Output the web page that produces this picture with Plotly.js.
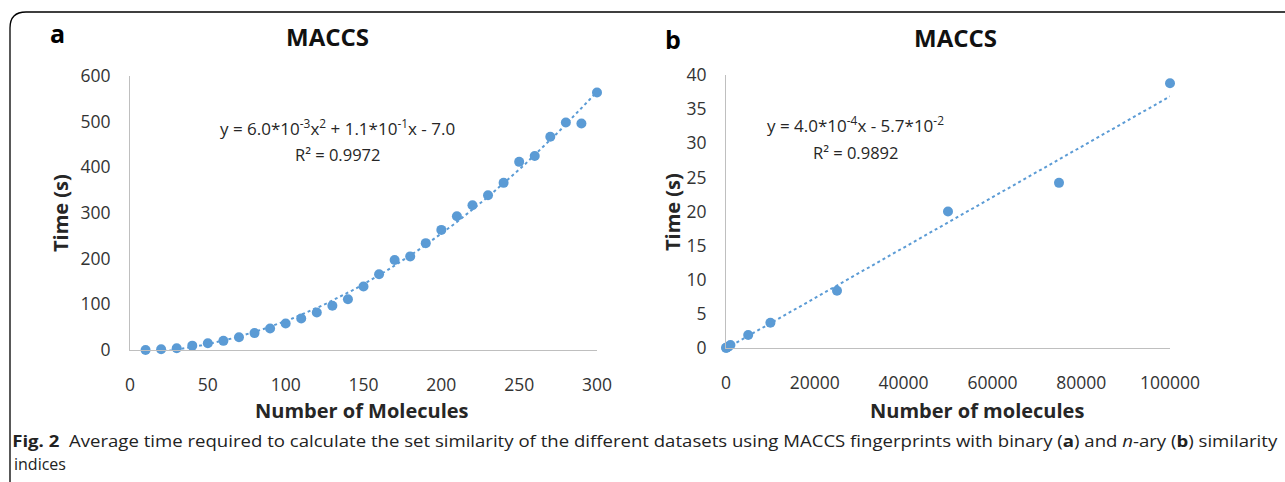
<!DOCTYPE html>
<html><head><meta charset="utf-8">
<script src="https://cdn.plot.ly/plotly-3.0.1.min.js"></script>
<style>html,body{margin:0;padding:0;background:#fff}#c{width:1285px;height:482px}</style>
</head><body><div id="c"></div>
<script>
// Panel a: binary similarity
const molA = [10,20,30,40,50,60,70,80,90,100,110,120,130,140,150,160,170,180,190,200,210,220,230,240,250,260,270,280,290,300];
const timeA = [0,1.5,4,9.5,14.6,20,28,37,47,58,69,82,97,111,139,166,197,205,234,263,293,317,339,366,412,425,467,498,496,564];
// Panel b: n-ary similarity
const molB = [10,100,500,1000,5000,10000,25000,50000,75000,100000];
const timeB = [0.02,0.05,0.2,0.45,1.9,3.7,8.4,20.0,24.2,38.8];
const xTicksA = [0,50,100,150,200,250,300];
const yTicksA = [0,100,200,300,400,500,600];
const xTicksB = [0,20000,40000,60000,80000,100000];
const yTicksB = [0,5,10,15,20,25,30,35,40];

// least squares polynomial fit (trendlines derived from data)
function polyfit(xs, ys, deg){
  const n = deg+1;
  const A = Array.from({length:n},()=>Array(n+1).fill(0));
  for(let k=0;k<xs.length;k++){
    for(let i=0;i<n;i++){
      for(let j=0;j<n;j++) A[i][j]+=Math.pow(xs[k],i+j);
      A[i][n]+=ys[k]*Math.pow(xs[k],i);
    }
  }
  for(let i=0;i<n;i++){
    let p=i; for(let r=i+1;r<n;r++) if(Math.abs(A[r][i])>Math.abs(A[p][i])) p=r;
    [A[i],A[p]]=[A[p],A[i]];
    for(let r=0;r<n;r++){ if(r===i) continue; const f=A[r][i]/A[i][i]; for(let c=i;c<=n;c++) A[r][c]-=f*A[i][c]; }
  }
  return A.map((row,i)=>row[n]/row[i]);
}
function evalPoly(c,x){return c.reduce((s,ci,i)=>s+ci*Math.pow(x,i),0);}
const cA = polyfit(molA,timeA,2);
const cB = polyfit(molB,timeB,1);
const fitXA=[], fitYA=[];
for(let i=0;i<=120;i++){const x=molA[0]+(molA[molA.length-1]-molA[0])*i/120; fitXA.push(x); fitYA.push(evalPoly(cA,x));}
const fitXB=[molB[0],molB[molB.length-1]];
const fitYB=fitXB.map(x=>evalPoly(cB,x));

const blue='#5b9bd5';
const FONT='Open Sans';
const traces=[
  {x:fitXA,y:fitYA,type:'scatter',mode:'lines',line:{color:blue,width:2,dash:'dot'},xaxis:'x',yaxis:'y',hoverinfo:'skip'},
  {x:molA,y:timeA,type:'scatter',mode:'markers',marker:{color:blue,size:10},cliponaxis:false,xaxis:'x',yaxis:'y'},
  {x:fitXB,y:fitYB,type:'scatter',mode:'lines',line:{color:blue,width:2,dash:'dot'},xaxis:'x2',yaxis:'y2',hoverinfo:'skip'},
  {x:molB,y:timeB,type:'scatter',mode:'markers',marker:{color:blue,size:10},cliponaxis:false,xaxis:'x2',yaxis:'y2'}
];
const axCommon={showgrid:false,zeroline:false,showline:true,linecolor:'#bfbfbf',linewidth:1,ticks:'',
  tickfont:{family:FONT,size:17.5,color:'#333'},fixedrange:true};
const layout={
  width:1285,height:482,margin:{l:0,r:0,t:0,b:0},showlegend:false,
  paper_bgcolor:'#fff',plot_bgcolor:'rgba(0,0,0,0)',
  font:{family:FONT,color:'#000'},
  xaxis:Object.assign({},axCommon,{domain:[130/1285,597/1285],range:[0,300],tickvals:xTicksA,ticktext:xTicksA.map(String),anchor:'y',ticklabelstandoff:19}),
  yaxis:Object.assign({},axCommon,{domain:[132/482,406/482],range:[0,600],tickvals:yTicksA,ticktext:yTicksA.map(String),anchor:'x',ticklabelstandoff:15}),
  xaxis2:Object.assign({},axCommon,{domain:[726/1285,1170/1285],range:[0,100000],tickvals:xTicksB,ticktext:xTicksB.map(String),anchor:'y2',ticklabelstandoff:19}),
  yaxis2:Object.assign({},axCommon,{domain:[134/482,407/482],range:[0,40],tickvals:yTicksB,ticktext:yTicksB.map(String),anchor:'x2',ticklabelstandoff:15}),
  shapes:[{type:'path',xref:'paper',yref:'paper',path:'',line:{color:'#000',width:1.3}}],
  annotations:[]
};
layout.shapes[0].path='M '+(10/1285)+' 0 L '+(10/1285)+' '+(1-28/482)+' Q '+(10/1285)+' '+(1-12/482)+' '+(26/1285)+' '+(1-12/482)+' L 1.01 '+(1-12/482);
function ann(text,px,py,opt){
  return Object.assign({text:text,x:px/1285,y:1-py/482,xref:'paper',yref:'paper',showarrow:false,xanchor:'center',yanchor:'middle'},opt||{});
}
const CAP_W=1265;
layout.annotations.push(
  ann('<b>a</b>',57,33,{font:{family:FONT,size:25,color:'#000'}}),
  ann('<b>b</b>',673,39,{font:{family:FONT,size:25,color:'#000'}}),
  ann('<b>MACCS</b>',327,37,{font:{family:FONT,size:24,color:'#111'}}),
  ann('<b>MACCS</b>',955,38,{font:{family:FONT,size:24,color:'#111'}}),
  ann('y = 6.0*10<sup>-3</sup>x<sup>2</sup> + 1.1*10<sup>-1</sup>x - 7.0',337,128,{font:{family:FONT,size:17,color:'#262626'}}),
  ann('R² = 0.9972',337,155,{font:{family:FONT,size:16.5,color:'#262626'}}),
  ann('y = 4.0*10<sup>-4</sup>x - 5.7*10<sup>-2</sup>',855,125,{font:{family:FONT,size:17,color:'#262626'}}),
  ann('R² = 0.9892',855,152,{font:{family:FONT,size:16.5,color:'#262626'}}),
  ann('<b>Time (s)</b>',60,213,{textangle:-90,font:{family:FONT,size:20,color:'#262626'}}),
  ann('<b>Time (s)</b>',672,212,{textangle:-90,font:{family:FONT,size:20,color:'#262626'}}),
  ann('<b>Number of Molecules</b>',362,410,{font:{family:FONT,size:20,color:'#262626'}}),
  ann('<b>Number of molecules</b>',977,410,{font:{family:FONT,size:20,color:'#262626'}}),
  ann('<b>Fig. 2</b>  Average time required to calculate the set similarity of the different datasets using MACCS fingerprints with binary (<b>a</b>) and <i>n</i>-ary (<b>b</b>) similarity',12+CAP_W/2,441,{font:{family:FONT,size:15.5,color:'#222'}}),
  ann('indices',12,464,{xanchor:'left',font:{family:FONT,size:16,color:'#222'}})
);
Plotly.newPlot('c',traces,layout,{displayModeBar:false,staticPlot:true}).then(function(){
  document.querySelectorAll('.annotation-text').forEach(function(t){
    if(t.textContent.indexOf('Fig. 2')===0){
      t.setAttribute('textLength',CAP_W);
      t.setAttribute('lengthAdjust','spacingAndGlyphs');
    }
  });
});
</script></body></html>
